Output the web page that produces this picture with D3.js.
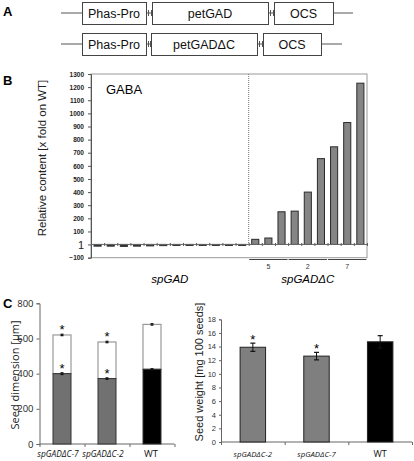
<!DOCTYPE html>
<html><head><meta charset="utf-8">
<script src="https://cdn.jsdelivr.net/npm/d3@7/dist/d3.min.js"></script>
<style>body{margin:0;background:#fff}svg{display:block}</style>
</head><body>
<script>
// ---------- DATA ----------
const constructRows = [["Phas-Pro","petGAD","OCS"],["Phas-Pro","petGADΔC","OCS"]];
const gabaLines = ["spGAD","spGAD","spGAD","spGAD","spGAD","spGAD","spGAD","spGAD","spGAD","spGAD","spGAD","spGAD",
  "spGADΔC","spGADΔC","spGADΔC","spGADΔC","spGADΔC","spGADΔC","spGADΔC","spGADΔC","spGADΔC"];
const gabaValues = [-12,-12,-14,-12,-10,-8,-6,-6,-6,-6,-6,-6, 40,50,250,255,400,655,745,930,1230];
const gabaTicks = [-100,1,100,200,300,400,500,600,700,800,900,1000,1100,1200,1300];
const groupLabels = ["5","2","7"];
const groupStart = [12,15,18];
const groupEnd = [14,17,20];
const dimCategories = ["spGADΔC-7","spGADΔC-2","WT"];
const dimInner = [400,372,425];
const dimTotal = [620,580,680];
const dimInnerErr = [5,4,3];
const dimTotalErr = [4,4,4];
const dimSig = [true,true,false];
const dimTicks = [0,200,400,600,800];
const weightCategories = ["spGADΔC-2","spGADΔC-7","WT"];
const weightValues = [13.9,12.6,14.7];
const weightErr = [0.6,0.55,0.9];
const weightSig = [true,true,false];
const weightTicks = [0,2,4,6,8,10,12,14,16,18];

const W = 414, H = 461;
const svg = d3.select("body").append("svg").attr("width",W).attr("height",H);
const SANS = "'Liberation Sans', Arial, sans-serif";
const OPEN = "'Open Sans', sans-serif";

// ---------- PANEL A ----------
const gA = svg.append("g");
gA.append("text").attr("x",3).attr("y",16).text("A")
  .attr("font-family",SANS).attr("font-weight","bold").attr("font-size",13);
const rowsA = [
  {y0:2, y1:24, lineEnd:353, boxes:[[82,146],[152,268],[274,333]]},
  {y0:33, y1:55, lineEnd:342, boxes:[[82,146],[151,257],[263,321]]}
];
rowsA.forEach((r,ri)=>{
  const cy = (r.y0+r.y1)/2;
  gA.append("line").attr("x1",61).attr("x2",r.lineEnd).attr("y1",cy).attr("y2",cy)
    .attr("stroke","#555").attr("stroke-width",1);
  r.boxes.forEach((b,bi)=>{
    if (bi>0){
      const px = r.boxes[bi-1][1], nx = b[0];
      [px+2, nx-1].forEach(tx=>gA.append("line").attr("x1",tx+0.5).attr("x2",tx+0.5)
        .attr("y1",cy-3).attr("y2",cy+3).attr("stroke","#555"));
    }
    gA.append("rect").attr("x",b[0]+0.5).attr("y",r.y0+0.5).attr("width",b[1]-b[0]).attr("height",r.y1-r.y0)
      .attr("fill","#fff").attr("stroke","#444").attr("stroke-width",1);
    gA.append("text").attr("x",(b[0]+b[1])/2).attr("y",cy+4.5).attr("text-anchor","middle")
      .attr("font-family",SANS).attr("font-size",12.5).attr("fill","#111").text(constructRows[ri][bi]);
  });
});

// ---------- PANEL B ----------
const gB = svg.append("g");
gB.append("text").attr("x",3).attr("y",85).text("B")
  .attr("font-family",SANS).attr("font-weight","bold").attr("font-size",13);
const bL=91, bR=367, bT=74, bB=257.7;
const xB = d3.scaleBand().domain(d3.range(gabaValues.length)).range([bL,bL+13.14*21]).paddingInner(0.46).paddingOuter(0.23);
const xBi = d3.scaleLinear().domain([0,gabaValues.length]).range([bL,bL+13.14*21]);
const yB = d3.scaleLinear().domain([-100,1300]).range([bB,bT]);
gB.append("rect").attr("x",bL).attr("y",bT).attr("width",bR-bL).attr("height",bB-bT)
  .attr("fill","none").attr("stroke","#999").attr("stroke-width",1);
const axB = gB.append("g").attr("transform",`translate(${bL},0)`)
  .call(d3.axisLeft(yB).tickValues(gabaTicks).tickSize(3).tickPadding(4).tickFormat(d3.format("d")));
axB.select(".domain").attr("stroke","#555");
axB.selectAll(".tick line").attr("stroke","#555");
axB.selectAll(".tick text").attr("font-family",SANS).attr("fill","#222")
  .attr("font-size",d=>d===1?11:6.5).attr("font-weight",d=>d===1?"normal":"bold")
  .attr("dy",d=>d===1?"0.35em":"0.33em");
// dotted separator
gB.append("line").attr("x1",xBi(12)).attr("x2",xBi(12)).attr("y1",bT).attr("y2",yB(1))
  .attr("stroke","#777").attr("stroke-dasharray","1,1");
// bars
gB.selectAll("rect.bar").data(gabaValues).join("rect").attr("class","bar")
  .attr("x",(d,i)=>xB(i)).attr("width",xB.bandwidth())
  .attr("y",d=>Math.min(yB(d),yB(1))).attr("height",d=>Math.max(Math.abs(yB(1)-yB(d)),1))
  .attr("fill",(d,i)=>i<12?"#333":"#858585").attr("stroke",(d,i)=>i<12?"#333":"#2a2a2a").attr("stroke-width",1);
// baseline axis with boundary ticks
const base = gB.append("g").attr("transform",`translate(0,${yB(1)-1.5})`)
  .call(d3.axisBottom(xBi).tickValues(d3.range(gabaValues.length+1)).tickSize(3).tickFormat(""));
base.select(".domain").remove();
base.selectAll(".tick line").attr("stroke","#555");
gB.append("line").attr("x1",bL).attr("x2",bR).attr("y1",yB(1)).attr("y2",yB(1)).attr("stroke","#666");
gB.append("text").attr("x",106).attr("y",94).text("GABA")
  .attr("font-family",SANS).attr("font-size",13);
gB.append("text").attr("transform",`translate(46,158) rotate(-90)`).attr("text-anchor","middle")
  .attr("font-family",SANS).attr("font-size",11.5).attr("fill","#222").text("Relative content [x fold on WT]");
// group lines
groupLabels.forEach((g,i)=>{
  const x1 = xB(groupStart[i])-2.5, x2 = xB(groupEnd[i])+xB.bandwidth()+2.5;
  gB.append("line").attr("x1",x1).attr("x2",x2).attr("y1",259.5).attr("y2",259.5).attr("stroke","#444");
  gB.append("text").attr("x",(x1+x2)/2).attr("y",268.5).attr("text-anchor","middle")
    .attr("font-family",SANS).attr("font-size",7).attr("fill","#333").text(g);
});
gB.append("text").attr("x",xBi(6)).attr("y",283).attr("text-anchor","middle").attr("font-style","italic")
  .attr("font-family",SANS).attr("font-size",11.5).text("spGAD");
gB.append("text").attr("x",xBi(16.5)).attr("y",283).attr("text-anchor","middle").attr("font-style","italic")
  .attr("font-family",SANS).attr("font-size",11.5).text("spGADΔC");

// ---------- helpers ----------
function errBar(g, cx, yScale, v, e, cap){
  g.append("line").attr("x1",cx).attr("x2",cx).attr("y1",yScale(v-e)).attr("y2",yScale(v+e)).attr("stroke","#111").attr("stroke-width",1);
  [v-e,v+e].forEach(t=>g.append("line").attr("x1",cx-cap).attr("x2",cx+cap).attr("y1",yScale(t)).attr("y2",yScale(t)).attr("stroke","#111").attr("stroke-width",1.2));
}

// ---------- PANEL C LEFT ----------
const gC = svg.append("g");
gC.append("text").attr("x",3).attr("y",308).text("C")
  .attr("font-family",SANS).attr("font-weight","bold").attr("font-size",13);
const cL=39.5, cR=174.5, cT=303.3, cB=444;
const xC = d3.scaleBand().domain(dimCategories).range([cL,cR]).padding(0.6).paddingOuter(0.3);
const yC = d3.scaleLinear().domain([0,800]).range([cB,cT]);
const axCy = gC.append("g").attr("transform",`translate(${cL},0)`)
  .call(d3.axisLeft(yC).tickValues(dimTicks).tickSize(3).tickPadding(3));
axCy.selectAll(".domain,.tick line").attr("stroke","#666");
axCy.selectAll(".tick text").attr("font-family",OPEN).attr("font-size",9.5).attr("fill","#222");
const xCi = d3.scaleLinear().domain([0,3]).range([cL,cR]);
const axCx = gC.append("g").attr("transform",`translate(0,${cB})`)
  .call(d3.axisBottom(xCi).tickValues([0,1,2,3]).tickSize(3).tickFormat(""));
axCx.selectAll(".domain,.tick line").attr("stroke","#666");
axCx.select(".domain").attr("d",`M${cL},0H${cR}`);
gC.selectAll("rect.top").data(dimTotal).join("rect").attr("class","top")
  .attr("x",(d,i)=>xC(dimCategories[i])).attr("width",xC.bandwidth())
  .attr("y",d=>yC(d)).attr("height",(d,i)=>yC(dimInner[i])-yC(d))
  .attr("fill","#fff").attr("stroke","#999").attr("stroke-width",1.2);
gC.selectAll("rect.inner").data(dimInner).join("rect").attr("class","inner")
  .attr("x",(d,i)=>xC(dimCategories[i])).attr("width",xC.bandwidth())
  .attr("y",d=>yC(d)).attr("height",d=>cB-yC(d))
  .attr("fill",(d,i)=>dimCategories[i]==="WT"?"#000":"#717171").attr("stroke","#333").attr("stroke-width",1);
dimCategories.forEach((c,i)=>{
  const cx = xC(c)+xC.bandwidth()/2;
  errBar(gC,cx,yC,dimInner[i],dimInnerErr[i],1.5);
  errBar(gC,cx,yC,dimTotal[i],dimTotalErr[i],1.5);
  if (dimSig[i]){
    gC.append("text").attr("x",cx).attr("y",yC(dimTotal[i]+dimTotalErr[i])).attr("text-anchor","middle")
      .attr("font-family",SANS).attr("font-size",13).attr("fill","#000").text("*");
    gC.append("text").attr("x",cx).attr("y",yC(dimInner[i]+dimInnerErr[i])).attr("text-anchor","middle")
      .attr("font-family",SANS).attr("font-size",13).attr("fill","#000").text("*");
  }
  gC.append("text").attr("x",cx-(c==="WT"?1:4)).attr("y",457).attr("text-anchor","middle")
    .attr("font-family",OPEN).attr("font-size",c==="WT"?9.5:8.4)
    .attr("font-style",c==="WT"?"normal":"italic").attr("fill","#111").text(c);
});
gC.append("text").attr("transform",`translate(19,375) rotate(-90)`).attr("text-anchor","middle")
  .attr("font-family",OPEN).attr("font-size",11).attr("fill","#222").text("Seed dimension [µm]");

// ---------- PANEL C RIGHT ----------
const gD = svg.append("g");
const dL=221, dR=412, dT=319.3, dB=442;
const xD = d3.scaleBand().domain(weightCategories).range([dL,dR]).padding(0.6).paddingOuter(0.3);
const yD = d3.scaleLinear().domain([0,18]).range([dB,dT]);
const axDy = gD.append("g").attr("transform",`translate(${dL},0)`)
  .call(d3.axisLeft(yD).tickValues(weightTicks).tickSize(2).tickPadding(3));
axDy.selectAll(".domain,.tick line").attr("stroke","#666");
axDy.selectAll(".tick text").attr("font-family",SANS).attr("font-size",7.5).attr("fill","#333");
const xDi = d3.scaleLinear().domain([0,3]).range([dL,dR]);
const axDx = gD.append("g").attr("transform",`translate(0,${dB})`)
  .call(d3.axisBottom(xDi).tickValues([0,1,2,3]).tickSize(3).tickFormat(""));
axDx.selectAll(".domain,.tick line").attr("stroke","#666");
axDx.select(".domain").attr("d",`M${dL},0H${dR}`);
gD.selectAll("rect.w").data(weightValues).join("rect").attr("class","w")
  .attr("x",(d,i)=>xD(weightCategories[i])).attr("width",xD.bandwidth())
  .attr("y",d=>yD(d)).attr("height",d=>dB-yD(d))
  .attr("fill",(d,i)=>weightCategories[i]==="WT"?"#000":"#7f7f7f").attr("stroke","#222").attr("stroke-width",1);
weightCategories.forEach((c,i)=>{
  const cx = xD(c)+xD.bandwidth()/2;
  errBar(gD,cx,yD,weightValues[i],weightErr[i],2.5);
  if (weightSig[i]) gD.append("text").attr("x",cx).attr("y",yD(weightValues[i]+weightErr[i])+1).attr("text-anchor","middle")
    .attr("font-family",SANS).attr("font-size",13).text("*");
  gD.append("text").attr("x",cx).attr("y",457).attr("text-anchor","middle")
    .attr("font-family",OPEN).attr("font-size",c==="WT"?9:7.8)
    .attr("font-style",c==="WT"?"normal":"italic").attr("fill","#111").text(c);
});
gD.append("text").attr("transform",`translate(203,372) rotate(-90)`).attr("text-anchor","middle")
  .attr("font-family",SANS).attr("font-size",11).attr("fill","#222").text("Seed weight [mg 100 seeds]");
</script>
</body></html>
